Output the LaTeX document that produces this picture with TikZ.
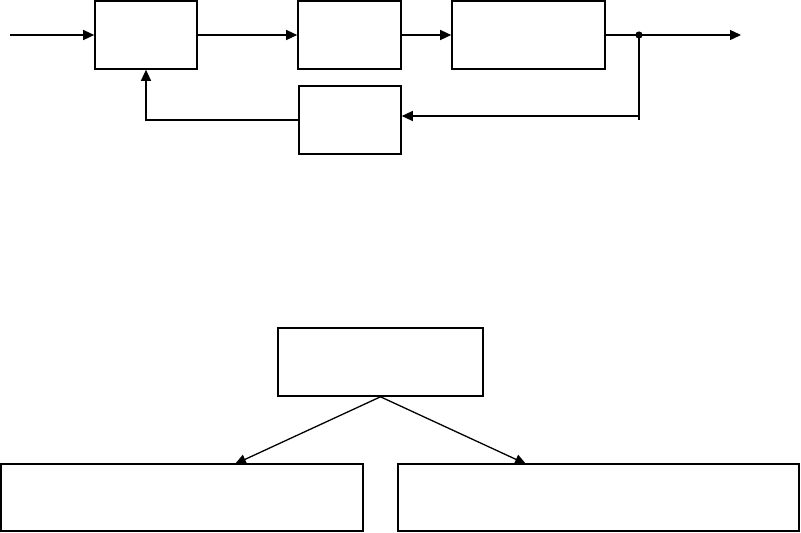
\documentclass[tikz,border=0pt]{standalone}
\usetikzlibrary{arrows.meta}
\begin{document}
\begin{tikzpicture}[x=1pt,y=-1pt,
  blk/.style={draw=black,line width=1.6pt,rectangle,inner sep=0pt,fill=white},
  conn/.style={draw=black,line width=1.3pt},
  arr/.style={conn,-{Triangle[length=11pt,width=10pt]}}]
\useasboundingbox[fill=white] (0,0) rectangle (801,533);
% top loop
\node[blk,minimum width=102pt,minimum height=68pt] (A) at (146,35) {};
\node[blk,minimum width=103pt,minimum height=68pt] (B) at (349.5,35) {};
\node[blk,minimum width=153pt,minimum height=68pt] (C) at (528.5,35) {};
\node[blk,minimum width=102pt,minimum height=68pt] (D) at (350,120) {};
\coordinate (in) at (10,35);
\coordinate (dot) at (639,35);
\coordinate (out) at (741,35);
\coordinate (tick) at (639,120);
\coordinate (fb) at (639,116);
\draw[arr] (in) -- (A.west);
\draw[arr] (A.east) -- (B.west);
\draw[arr] (B.east) -- (C.west);
\draw[conn] (C.east) -- (dot);
\draw[arr] (dot) -- (out);
\draw[conn] (dot) -- (tick);
\draw[arr] (fb) -- (D.east |- fb);
\draw[arr] (D.west) -| (A.south);
\fill (dot) circle (3.6pt);
% bottom tree
\node[blk,minimum width=205pt,minimum height=68pt] (T) at (380.5,362) {};
\node[blk,minimum width=362pt,minimum height=67pt] (L) at (182,497.5) {};
\node[blk,minimum width=401pt,minimum height=67pt] (R) at (598.5,497.5) {};
\coordinate (lt) at (235,464);
\coordinate (rt) at (526,464);
\draw[arr] (T.south) -- (lt);
\draw[arr] (T.south) -- (rt);
\end{tikzpicture}
\end{document}
